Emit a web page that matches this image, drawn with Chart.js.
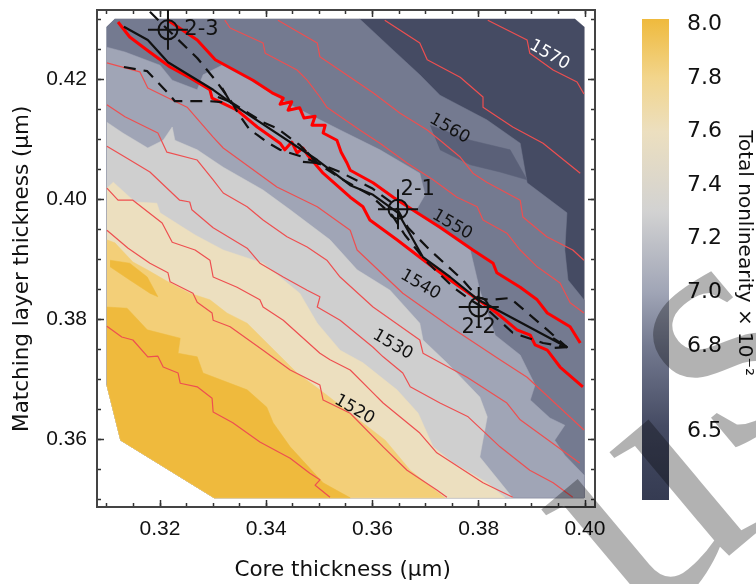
<!DOCTYPE html>
<html><head><meta charset="utf-8">
<style>
html,body{margin:0;padding:0;background:#fff;width:756px;height:584px;overflow:hidden}
#main{position:absolute;left:0;top:0}
#bar{position:absolute;left:620px;top:0}
.mark{position:absolute;font:340px/1 "Liberation Serif",serif;color:rgba(0,0,0,.3);transform:translate(-50%,-50%) rotate(-40deg);white-space:nowrap;pointer-events:none}
</style>
<script src="https://cdn.jsdelivr.net/npm/chart.js@4/dist/chart.umd.min.js"></script>
</head><body>
<canvas id="main" width="620" height="584"></canvas>
<canvas id="bar" width="136" height="584"></canvas>
<div class="mark" style="left:630px;top:490px">u</div>
<div class="mark" style="left:705px;top:330px">s</div>
<script>
const xMin=0.30814,xMax=0.40188,yMin=0.34867,yMax=0.4315;
const xMajorStep=0.02,xMinorStep=0.005,yMajorStep=0.02,yMinorStep=0.005;
const xTitle='Core thickness (μm) ',yTitle='Matching layer thickness (μm)   ',barTitle='Total nonlinearity × 10⁻²  ';
const colorTicks=[8.0,7.8,7.6,7.4,7.2,7.0,6.8,6.48];
const colorRange=[6.225,8.02];

// filled levels
const outlineX=[0.3115,0.3981,0.3998,0.3998,0.3302,0.3126,0.3100,0.3100];
const outlineY=[0.4300,0.4300,0.4287,0.3502,0.3502,0.3598,0.3690,0.4287];
const closeX=[0.3998,0.3302,0.3126,0.3100];
const closeY=[0.3502,0.3502,0.3598,0.3690];
const band2X=[0.3576,0.3639,0.3689,0.3727,0.3815,0.3878,0.3891,0.3966,0.3962,0.3968,0.3998];
const band2Y=[0.4300,0.4248,0.4207,0.4173,0.4132,0.4093,0.4027,0.3977,0.3915,0.3865,0.3832];
const band2EndX=[0.3100,0.3115];
const band2EndY=[0.4287,0.4300];
const band3X=[0.3100,0.3134,0.3200,0.3223,0.3270,0.3281,0.3317,0.3369,0.3445,0.3539,0.3614,0.3689,0.3699,0.3680,0.3784,0.3802,0.3831,0.3878,0.3906,0.3897,0.3934,0.3962,0.3943,0.3962,0.3998];
const band3Y=[0.4253,0.4245,0.4223,0.4198,0.4182,0.4207,0.4223,0.4198,0.4157,0.4115,0.4082,0.4043,0.4007,0.3978,0.3915,0.3848,0.3773,0.3740,0.3690,0.3665,0.3635,0.3623,0.3598,0.3573,0.3540];
const band4X=[0.3100,0.3130,0.3177,0.3206,0.3223,0.3228,0.3270,0.3319,0.3394,0.3445,0.3520,0.3571,0.3633,0.3689,0.3695,0.3740,0.3802,0.3816,0.3802,0.3864];
const band4Y=[0.4128,0.4110,0.4085,0.4098,0.4120,0.4098,0.4082,0.4053,0.4015,0.3982,0.3932,0.3882,0.3848,0.3793,0.3765,0.3727,0.3670,0.3637,0.3570,0.3502];
const band5X=[0.3100,0.3112,0.3153,0.3194,0.3200,0.3266,0.3319,0.3394,0.3463,0.3496,0.3539,0.3582,0.3646,0.3686,0.3714,0.3752,0.3816,0.3849];
const band5Y=[0.4018,0.4028,0.3995,0.3993,0.3977,0.3940,0.3915,0.3893,0.3843,0.3793,0.3748,0.3727,0.3682,0.3643,0.3587,0.3560,0.3527,0.3502];
const band6X=[0.3100,0.3115,0.3149,0.3176,0.3215,0.3256,0.3294,0.3326,0.3364,0.3458,0.3501,0.3558,0.3624,0.3671,0.3736];
const band6Y=[0.3932,0.3927,0.3895,0.3882,0.3862,0.3843,0.3832,0.3810,0.3793,0.3710,0.3682,0.3643,0.3598,0.3548,0.3502];
const band7X=[0.3100,0.3138,0.3176,0.3238,0.3234,0.3270,0.3281,0.3364,0.3401,0.3413,0.3445,0.3507,0.3558];
const band7Y=[0.3820,0.3818,0.3782,0.3768,0.3743,0.3737,0.3710,0.3682,0.3653,0.3627,0.3587,0.3527,0.3502];
const patchX=[0.3106,0.3143,0.3176,0.3196,0.3181,0.3143,0.3106];
const patchY=[0.3898,0.3893,0.3870,0.3837,0.3843,0.3865,0.3887];
const stripeX=[0.3708,0.3784,0.3859,0.3891,0.3840,0.3784,0.3727];
const stripeY=[0.4123,0.4098,0.4082,0.4032,0.4045,0.4057,0.4082];

// thin contours
const c1X=[0.3100,0.3128,0.3149,0.3177,0.3196,0.3206,0.3234,0.3238,0.3270,0.3298,0.3300,0.3337,0.3388,0.3445,0.3482,0.3501,0.3492,0.3520];
const c1Y=[0.3788,0.3770,0.3765,0.3737,0.3738,0.3720,0.3710,0.3693,0.3687,0.3668,0.3645,0.3627,0.3595,0.3568,0.3543,0.3532,0.3523,0.3503];
const c2X=[0.3100,0.3140,0.3181,0.3215,0.3219,0.3262,0.3270,0.3298,0.3300,0.3332,0.3394,0.3445,0.3501,0.3507,0.3558,0.3620,0.3665,0.3721,0.3740];
const c2Y=[0.3948,0.3918,0.3893,0.3877,0.3862,0.3843,0.3828,0.3810,0.3798,0.3787,0.3748,0.3715,0.3690,0.3665,0.3643,0.3587,0.3548,0.3515,0.3503];
const c3X=[0.3100,0.3121,0.3149,0.3204,0.3223,0.3266,0.3294,0.3300,0.3345,0.3388,0.3394,0.3432,0.3501,0.3520,0.3558,0.3601,0.3620,0.3689,0.3721,0.3808,0.3864];
const c3Y=[0.4018,0.3998,0.3998,0.3960,0.3928,0.3915,0.3898,0.3870,0.3853,0.3832,0.3820,0.3798,0.3743,0.3732,0.3715,0.3677,0.3660,0.3610,0.3577,0.3527,0.3503];
const c4X=[0.3100,0.3134,0.3181,0.3237,0.3256,0.3260,0.3300,0.3364,0.3388,0.3432,0.3477,0.3501,0.3496,0.3539,0.3601,0.3620,0.3657,0.3671,0.3727,0.3780,0.3840,0.3896,0.3940,0.3977];
const c4Y=[0.4088,0.4070,0.4045,0.3998,0.3995,0.3982,0.3952,0.3918,0.3893,0.3870,0.3848,0.3837,0.3820,0.3798,0.3753,0.3737,0.3710,0.3687,0.3660,0.3637,0.3587,0.3548,0.3527,0.3503];
const c5X=[0.3100,0.3134,0.3196,0.3213,0.3270,0.3300,0.3319,0.3364,0.3394,0.3439,0.3477,0.3514,0.3539,0.3601,0.3689,0.3695,0.3778,0.3853,0.3878,0.3990];
const c5Y=[0.4157,0.4137,0.4110,0.4078,0.4065,0.4032,0.4010,0.3987,0.3965,0.3937,0.3920,0.3898,0.3870,0.3820,0.3765,0.3743,0.3703,0.3660,0.3632,0.3560];
const c6X=[0.3100,0.3162,0.3177,0.3251,0.3300,0.3319,0.3420,0.3496,0.3558,0.3571,0.3657,0.3746,0.3840,0.3891,0.3998];
const c6Y=[0.4227,0.4212,0.4185,0.4153,0.4103,0.4085,0.4020,0.3987,0.3948,0.3915,0.3843,0.3787,0.3732,0.3703,0.3615];
const t1X=[0.3322,0.3332,0.3394,0.3398,0.3458,0.3477,0.3501,0.3514,0.3576,0.3614,0.3665,0.3714,0.3759,0.3797,0.3808,0.3853,0.3878,0.3910,0.3953,0.3972,0.3998];
const t1Y=[0.4298,0.4285,0.4260,0.4243,0.4215,0.4198,0.4170,0.4153,0.4115,0.4093,0.4060,0.4032,0.4003,0.3987,0.3965,0.3943,0.3915,0.3887,0.3860,0.3827,0.3810];
const t2X=[0.3422,0.3496,0.3501,0.3558,0.3601,0.3652,0.3703,0.3727,0.3765,0.3789,0.3815,0.3878,0.3883,0.3928,0.3977,0.3998];
const t2Y=[0.4298,0.4260,0.4237,0.4203,0.4177,0.4143,0.4115,0.4098,0.4070,0.4043,0.4028,0.3998,0.3970,0.3937,0.3915,0.3898];
const t3X=[0.3623,0.3689,0.3703,0.3765,0.3808,0.3808,0.3864,0.3921,0.3991];
const t3Y=[0.4298,0.4260,0.4232,0.4203,0.4170,0.4153,0.4120,0.4093,0.4043];
const t4X=[0.3817,0.3891,0.3896,0.3940,0.3985,0.3998];
const t4Y=[0.4298,0.4265,0.4243,0.4215,0.4195,0.4175];

// bold red contours
const redUpX=[0.3215,0.3270,0.3304,0.3375,0.3411,0.3432,0.3426,0.3448,0.3441,0.3463,0.3471,0.3492,0.3486,0.3511,0.3507,0.3533,0.3541,0.3552,0.3558,0.3601,0.3639,0.3684,0.3727,0.3789,0.3827,0.3834,0.3878,0.3910,0.3929,0.3972,0.3991];
const redUpY=[0.4298,0.4265,0.4232,0.4198,0.4177,0.4168,0.4158,0.4162,0.4148,0.4152,0.4135,0.4138,0.4123,0.4123,0.4110,0.4098,0.4078,0.4060,0.4048,0.4027,0.4003,0.3977,0.3953,0.3915,0.3893,0.3877,0.3853,0.3832,0.3810,0.3787,0.3760];
const redLowX=[0.3121,0.3143,0.3176,0.3219,0.3256,0.3294,0.3298,0.3345,0.3383,0.3426,0.3435,0.3448,0.3458,0.3469,0.3479,0.3507,0.3558,0.3582,0.3595,0.3646,0.3689,0.3746,0.3834,0.3872,0.3897,0.3906,0.3929,0.3953,0.3996];
const redLowY=[0.4295,0.4270,0.4248,0.4220,0.4202,0.4182,0.4168,0.4148,0.4120,0.4093,0.4082,0.4095,0.4077,0.4085,0.4072,0.4043,0.4003,0.3987,0.3965,0.3932,0.3903,0.3865,0.3810,0.3782,0.3773,0.3757,0.3748,0.3720,0.3687];

// black paths
const solidX=[0.3132,0.3177,0.3215,0.3300,0.3345,0.3496,0.3558,0.3601,0.3648,0.3695,0.3746,0.3799,0.3966];
const solidY=[0.4287,0.4265,0.4228,0.4182,0.4153,0.4065,0.4023,0.4007,0.3977,0.3903,0.3870,0.3832,0.3753];
const dashUpX=[0.3181,0.3215,0.3270,0.3307,0.3336,0.3394,0.3420,0.3463,0.3496,0.3539,0.3599,0.3642,0.3667,0.3708,0.3770,0.3799,0.3821,0.3859,0.3929,0.3966];
const dashUpY=[0.4312,0.4282,0.4235,0.4195,0.4160,0.4128,0.4118,0.4090,0.4060,0.4045,0.4018,0.3990,0.3952,0.3915,0.3865,0.3835,0.3832,0.3835,0.3782,0.3753];
const dashLowX=[0.3132,0.3176,0.3219,0.3228,0.3294,0.3336,0.3347,0.3369,0.3383,0.3401,0.3426,0.3469,0.3496,0.3539,0.3595,0.3637,0.3661,0.3699,0.3752,0.3784,0.3821,0.3864,0.3921,0.3966];
const dashLowY=[0.4220,0.4213,0.4173,0.4163,0.4163,0.4160,0.4143,0.4115,0.4107,0.4095,0.4082,0.4070,0.4060,0.4035,0.4007,0.3973,0.3940,0.3898,0.3853,0.3832,0.3812,0.3777,0.3760,0.3753];
const head1X=[0.3317,0.3332,0.3309],head1Y=[0.4185,0.4162,0.4170];
const head2X=[0.3477,0.3496,0.3469],head2Y=[0.4078,0.4060,0.4062];
const head3X=[0.3940,0.3966,0.3943],head3Y=[0.3768,0.3753,0.3752];
const designX=[0.3215,0.3648,0.3800];
const designY=[0.4282,0.3983,0.3820];

// annotation text
const contourText=['1570','1560','1550','1540','1530','1520'];
const contourTextX=[0.3933,0.3745,0.3750,0.3690,0.3638,0.3566];
const contourTextY=[0.4240,0.4117,0.3957,0.3857,0.3757,0.3649];
const contourTextColor=['#ffffff','#111111','#111111','#111111','#111111','#111111'];
const designText=['2-3','2-1','2-2'];
const designTextX=[0.3278,0.3685,0.3800];
const designTextY=[0.4282,0.4015,0.3785];

Chart.defaults.font.family='"DejaVu Sans"';
Chart.defaults.color='#111';
const zip=(xs,ys)=>xs.map((x,i)=>({x,y:ys[i]}));
const fillDs=(xs,ys,c)=>({data:zip(xs,ys),showLine:true,fill:'shape',backgroundColor:c,borderColor:c,borderWidth:0.5,pointRadius:0,tension:0});
const lineDs=(xs,ys,c,w,dash)=>({data:zip(xs,ys),showLine:true,fill:false,borderColor:c,borderWidth:w,borderDash:dash||[],pointRadius:0,tension:0,borderJoinStyle:'round'});
const ptDs=(xs,ys,style,r)=>({data:zip(xs,ys),showLine:false,pointStyle:style,pointRadius:r,pointBorderWidth:2,pointBorderColor:'#111',pointBackgroundColor:'transparent'});
const thin='#ee4f50';
const paint=[
 fillDs(outlineX,outlineY,'#454b63'),
 fillDs([...band2X,...closeX,...band2EndX],[...band2Y,...closeY,...band2EndY],'#747a90'),
 fillDs(stripeX,stripeY,'#5a6078'),
 fillDs([...band3X,...closeX],[...band3Y,...closeY],'#a0a5b6'),
 fillDs([...band4X,...closeX.slice(1)],[...band4Y,...closeY.slice(1)],'#cfcfcf'),
 fillDs([...band5X,...closeX.slice(1)],[...band5Y,...closeY.slice(1)],'#ecdfbf'),
 fillDs([...band6X,...closeX.slice(1)],[...band6Y,...closeY.slice(1)],'#f3cf78'),
 fillDs([...band7X,...closeX.slice(1)],[...band7Y,...closeY.slice(1)],'#efba3d'),
 fillDs(patchX,patchY,'#efba3d'),
 lineDs(c1X,c1Y,thin,1.2),lineDs(c2X,c2Y,thin,1.2),lineDs(c3X,c3Y,thin,1.2),lineDs(c4X,c4Y,thin,1.2),lineDs(c5X,c5Y,thin,1.2),lineDs(c6X,c6Y,thin,1.2),
 lineDs(t1X,t1Y,thin,1.2),lineDs(t2X,t2Y,thin,1.2),lineDs(t3X,t3Y,thin,1.2),lineDs(t4X,t4Y,thin,1.2),
 lineDs(redUpX,redUpY,'#ff0000',3),lineDs(redLowX,redLowY,'#ff0000',3),
 lineDs(solidX,solidY,'#111',2.2),
 lineDs(dashUpX,dashUpY,'#111',2.2,[12,8]),lineDs(dashLowX,dashLowY,'#111',2.2,[12,8]),
 lineDs(head1X,head1Y,'#111',2.2),lineDs(head2X,head2Y,'#111',2.2),lineDs(head3X,head3Y,'#111',2.2),
 ptDs(designX,designY,'circle',9.5),ptDs(designX,designY,'cross',20)
];
paint.forEach((d,i)=>{d.order=paint.length-i;});

const frame={color:'#444',width:2};
const noPad=s=>{s.paddingTop=s.paddingBottom=s.paddingLeft=s.paddingRight=0;};
const axis=(ax,pos,min,max,step,tl,extra)=>Object.assign({
  type:'linear',axis:ax,position:pos,min,max,
  border:frame,
  grid:{drawOnChartArea:false,drawTicks:true,tickLength:tl,tickColor:'#333',tickWidth:1.5},
  ticks:{display:false,stepSize:step,includeBounds:false,autoSkip:false,maxRotation:0,minRotation:0},
  afterFit:s=>{noPad(s);if(ax==='x')s.height=0;else s.width=0;},
  weight:0
},extra||{});

const labelPlugin={id:'labels',afterDatasetsDraw(chart){
  const {ctx,scales:{x,y}}=chart;
  ctx.save();ctx.textAlign='center';ctx.textBaseline='middle';
  contourText.forEach((t,i)=>{
    ctx.save();ctx.translate(x.getPixelForValue(contourTextX[i]),y.getPixelForValue(contourTextY[i]));
    ctx.rotate(30*Math.PI/180);ctx.font='17px "DejaVu Sans"';ctx.fillStyle=contourTextColor[i];ctx.fillText(t,0,0);ctx.restore();
  });
  ctx.font='21px "DejaVu Sans"';ctx.fillStyle='#111';
  designText.forEach((t,i)=>ctx.fillText(t,x.getPixelForValue(designTextX[i]),y.getPixelForValue(designTextY[i])));
  ctx.restore();
}};
const tickFont={family:'"Liberation Sans"',size:21};

new Chart(document.getElementById('main'),{
  type:'scatter',
  data:{datasets:paint},
  plugins:[labelPlugin],
  options:{
    responsive:false,animation:false,
    layout:{autoPadding:false,padding:{left:0,top:10,right:25,bottom:0}},
    plugins:{legend:{display:false},tooltip:{enabled:false}},
    scales:{
      x:axis('x','bottom',xMin,xMax,xMajorStep,-7,{weight:1,
        ticks:{display:true,stepSize:xMajorStep,includeBounds:false,autoSkip:false,maxRotation:0,minRotation:0,padding:17,font:tickFont,color:'#111',callback:v=>v.toFixed(2)},
        title:{display:true,text:xTitle,font:{size:21.5},color:'#111',padding:{top:0,bottom:1}},
        afterFit:s=>{noPad(s);s.height=77;}}),
      xMinor:axis('x','bottom',xMin,xMax,xMinorStep,-4,{weight:0}),
      xTop:axis('x','top',xMin,xMax,xMajorStep,-7),
      xTopMinor:axis('x','top',xMin,xMax,xMinorStep,-4),
      y:axis('y','left',yMin,yMax,yMajorStep,-7,{weight:1,
        ticks:{display:true,stepSize:yMajorStep,includeBounds:false,autoSkip:false,maxRotation:0,minRotation:0,padding:17,font:tickFont,color:'#111',callback:v=>v.toFixed(2)},
        title:{display:true,text:yTitle,font:{size:21.5},color:'#111',padding:{top:10,bottom:0}},
        afterFit:s=>{noPad(s);s.width=97;}}),
      yMinor:axis('y','left',yMin,yMax,yMinorStep,-4,{weight:0}),
      yRight:axis('y','right',yMin,yMax,yMajorStep,-7),
      yRightMinor:axis('y','right',yMin,yMax,yMinorStep,-4)
    }
  }
});

const stops=[[8.02,'#efba3d'],[7.8,'#f2d58c'],[7.6,'#ecdfbf'],[7.3,'#d2d2d2'],[7.0,'#a0a5b6'],[6.8,'#747a90'],[6.5,'#454b63'],[6.225,'#353b52']];
new Chart(document.getElementById('bar'),{
  type:'bar',
  data:{labels:['level'],datasets:[{data:[colorRange],barPercentage:1,categoryPercentage:1,borderWidth:0,
    backgroundColor:c=>{const a=c.chart.chartArea;if(!a)return '#888';
      const g=c.chart.ctx.createLinearGradient(0,a.top,0,a.bottom);
      stops.forEach(([v,col])=>g.addColorStop((colorRange[1]-v)/(colorRange[1]-colorRange[0]),col));return g;}}]},
  options:{
    responsive:false,animation:false,
    layout:{autoPadding:false,padding:{left:22,top:19,right:0,bottom:84}},
    plugins:{legend:{display:false},tooltip:{enabled:false}},
    scales:{
      x:{display:false},
      y:{position:'right',min:colorRange[0],max:colorRange[1],
        grid:{display:false,drawTicks:false},border:{display:false},
        afterBuildTicks:s=>{s.ticks=colorTicks.map(value=>({value}));},
        afterFit:s=>{noPad(s);s.width=87;},
        ticks:{autoSkip:false,padding:18,font:{size:22},color:'#111',callback:v=>v.toFixed(1)},
        title:{display:true,text:barTitle,font:{size:20},color:'#111',padding:{top:0,bottom:0}}
      }
    }
  }
});
</script>
</body></html>
